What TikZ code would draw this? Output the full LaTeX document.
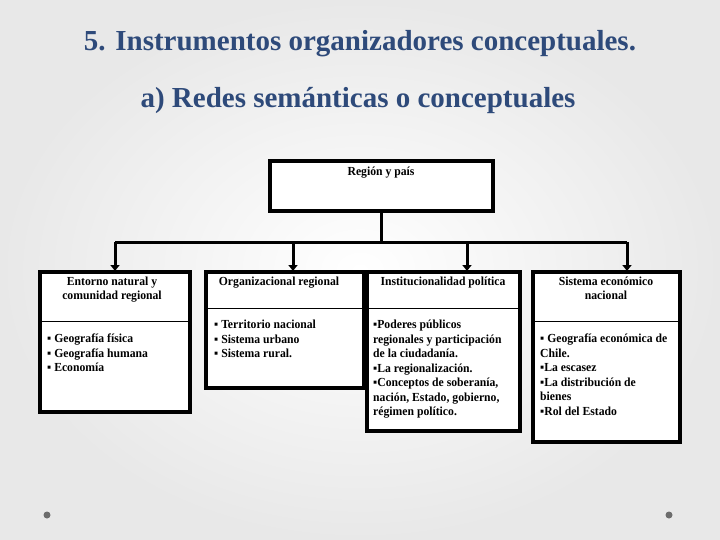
\documentclass[tikz,border=0pt]{standalone}
\usepackage{fontspec}
\setmainfont{Liberation Serif}
\newfontfamily\narrowf[FakeStretch=0.95]{Liberation Serif}
\usetikzlibrary{arrows.meta}
\definecolor{ttl}{HTML}{2E4A7A}
\begin{document}
\begin{tikzpicture}[x=1pt,y=-1pt,
  box/.style={draw=black,line width=3.5pt,fill=white},
  tx/.style={font=\narrowf\fontsize{12.3}{14.5}\selectfont\bfseries,inner sep=0pt,align=left,anchor=north west},
  hd/.style={font=\narrowf\fontsize{12.3}{14}\selectfont\bfseries,inner sep=0pt,align=center,anchor=north},
  arr/.style={line width=3pt,-{Triangle[length=6pt,width=9pt]}}]
\shade[inner color=white,outer color=gray!18] (0,0) rectangle (720,540);
\useasboundingbox (0,0) rectangle (720,540);
\fill[gray!85!black] (47,515) circle (3.5);
\fill[gray!85!black] (669,515) circle (3.5);
\node[font=\fontsize{29}{32}\selectfont\bfseries,text=ttl] (t1) at (360,44) {5. Instrumentos organizadores conceptuales.};
\node[font=\fontsize{29}{32}\selectfont\bfseries,text=ttl] (t2) at (358,101) {a) Redes semánticas o conceptuales};
% top
\draw[box] (270,161) rectangle (493,211);
\node[hd] (top) at (381,167) {Región y país};
\coordinate (tb) at (381,211);
\coordinate (j) at (381,242);
\draw[line width=3pt] (tb) -- (j);
\draw[line width=3pt] (115,242) -- (627,242);
\coordinate (a1) at (115,242); \coordinate (a2) at (293,242);
\coordinate (a3) at (467,242); \coordinate (a4) at (627,242);
\foreach \c in {a1,a2,a3,a4} \draw[arr] (\c) -- ++(0,29);
% boxes
\draw[box] (40,272) rectangle (190,412); \draw[line width=0.8pt] (40,321) -- (190,321);
\draw[box] (206,272) rectangle (364,388); \draw[line width=0.8pt] (206,308) -- (364,308);
\draw[box] (367,272) rectangle (520,431); \draw[line width=0.8pt] (367,308) -- (520,308);
\draw[box] (533,272) rectangle (680,442); \draw[line width=0.8pt] (533,321) -- (680,321);
\node[hd] (h1) at (112,277) {Entorno natural y\\comunidad regional};
\node[hd] (h2) at (279,277) {Organizacional regional};
\node[hd] (h3) at (443,277) {Institucionalidad política};
\node[hd] (h4) at (606,277) {Sistema económico\\nacional};
\node[tx] (b1) at (47,334) {▪ Geografía física\\▪ Geografía humana\\▪ Economía};
\node[tx] (b2) at (214,320) {▪ Territorio nacional\\▪ Sistema urbano\\▪ Sistema  rural.};
\node[tx] (b3) at (373,320) {▪Poderes públicos\\regionales y participación\\de la ciudadanía.\\▪La regionalización.\\▪Conceptos de soberanía,\\nación, Estado, gobierno,\\régimen político.};
\node[tx] (b4) at (540,334) {▪ Geografía económica de\\Chile.\\▪La escasez\\▪La distribución de\\bienes\\▪Rol del Estado};
\end{tikzpicture}
\end{document}
